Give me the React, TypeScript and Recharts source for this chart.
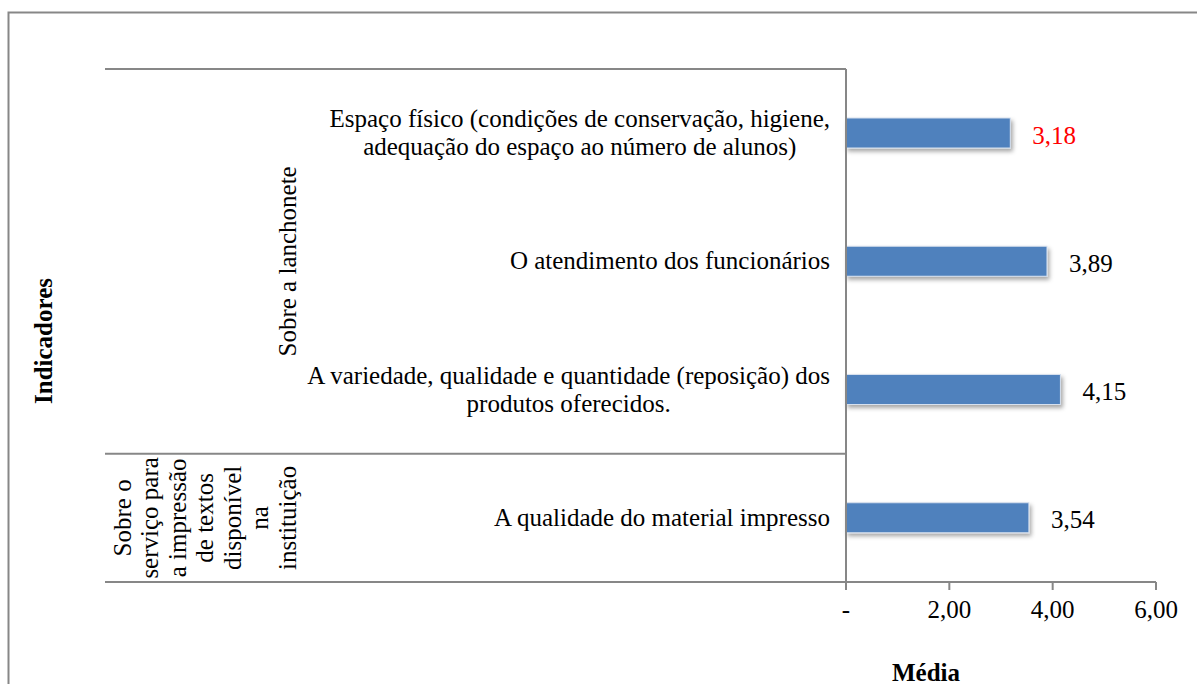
import { Bar, BarChart, LabelList, XAxis, YAxis } from "recharts";

const categories = [
  "Espaço físico (condições de conservação, higiene,\nadequação do espaço ao número de alunos)",
  "O atendimento dos funcionários",
  "A variedade, qualidade e quantidade (reposição) dos\nprodutos oferecidos.",
  "A qualidade do material impresso",
];
const values = [3.18, 3.89, 4.15, 3.54];
const groupLabels = [
  "Sobre a lanchonete",
  "Sobre o\nserviço para\na impressão\nde textos\ndisponível\nna\ninstituição",
];
const groupSizes = [3, 1];
const xTicks = [0, 2, 4, 6];
const redLabels = [0];

const data = categories.map((label, i) => ({ label, value: values[i] }));

const W = 1197;
const H = 684;
const M = { top: 69, right: 41, bottom: 0, left: 0 };
const X_AXIS_H = 102;
const Y_AXIS_W = 846;
const BAND = (H - M.top - X_AXIS_H) / categories.length;
const FONT = '"Liberation Serif", "Times New Roman", serif';
const FS = 25;
const LINE = "#878787";
const BLUE = "#4F81BD";
const LINE_LEFT = 105;
const LABEL_RIGHT = 830;
const GROUP_X = 287;
const LH = 27.5;

const fmt = (v: number) => (v === 0 ? "-" : v.toFixed(2).replace(".", ","));

function groupStart(i: number) {
  let s = 0;
  for (let g = 0; g < groupSizes.length; g++) {
    if (s === i) return g;
    s += groupSizes[g];
  }
  return -1;
}

function CategoryTick(props: any) {
  const { y, payload } = props;
  const i = props.index ?? payload.index;
  const g = groupStart(i);
  const last = i === categories.length - 1;
  return (
    <g>
      <foreignObject x={LINE_LEFT} y={y - BAND / 2} width={LABEL_RIGHT - LINE_LEFT} height={BAND}>
        <div
          style={{
            width: "100%",
            height: "100%",
            display: "flex",
            alignItems: "center",
            justifyContent: "flex-end",
          }}
        >
          <div
            style={{
              fontFamily: FONT,
              fontSize: FS,
              lineHeight: "28px",
              textAlign: "center",
              whiteSpace: "pre-line",
              color: "#000",
            }}
          >
            {payload.value}
          </div>
        </div>
      </foreignObject>
      {g >= 0 && (
        <>
          <line x1={LINE_LEFT} x2={Y_AXIS_W} y1={y - BAND / 2} y2={y - BAND / 2} stroke={LINE} strokeWidth={2} />
          <GroupLabel text={groupLabels[g]} cy={y + ((groupSizes[g] - 1) * BAND) / 2} />
        </>
      )}
      {last && (
        <line x1={LINE_LEFT} x2={Y_AXIS_W} y1={y + BAND / 2} y2={y + BAND / 2} stroke={LINE} strokeWidth={2} />
      )}
    </g>
  );
}

function GroupLabel({ text, cy }: { text: string; cy: number }) {
  const lines = text.split("\n");
  const n = lines.length;
  return (
    <text
      transform={`rotate(-90, ${GROUP_X}, ${cy})`}
      fontFamily={FONT}
      fontSize={FS}
      fill="#000"
      textAnchor="middle"
    >
      {lines.map((l, i) => (
        <tspan key={i} x={GROUP_X} y={cy + (i - (n - 1)) * LH} dominantBaseline="central">
          {l}
        </tspan>
      ))}
    </text>
  );
}

function ShadowBar(props: any) {
  const { x, y, width, height, index } = props;
  const id = `shadow-${index}`;
  return (
    <g>
      <defs>
        <filter id={id} x="-10%" y="-30%" width="130%" height="180%">
          <feDropShadow dx={2} dy={3} stdDeviation={2} floodColor="#000" floodOpacity={0.35} />
        </filter>
      </defs>
      <rect
        x={x}
        y={y}
        width={width}
        height={height}
        fill={BLUE}
        stroke="#d6e0ee"
        strokeWidth={1}
        filter={`url(#${id})`}
      />
    </g>
  );
}

function ValueLabel(props: any) {
  const { x, y, width, height, value, index } = props;
  return (
    <text
      x={x + width + 22}
      y={y + height / 2 + 2}
      fontFamily={FONT}
      fontSize={FS}
      fill={redLabels.includes(index) ? "#FF0000" : "#000"}
      dominantBaseline="central"
    >
      {fmt(value)}
    </text>
  );
}

export default function App() {
  return (
    <div style={{ position: "absolute", left: 0, top: 0, width: W, height: H, background: "#fff" }}>
      <BarChart width={W} height={H} data={data} layout="vertical" margin={M}>
        <XAxis
          type="number"
          domain={[0, 6]}
          ticks={xTicks}
          tickFormatter={fmt}
          tickSize={8}
          tickMargin={10}
          height={X_AXIS_H}
          stroke={LINE}
          strokeWidth={2}
          tick={{ fill: "#000", fontFamily: FONT, fontSize: FS }}
        />
        <YAxis
          type="category"
          dataKey="label"
          width={Y_AXIS_W}
          tickLine={false}
          stroke={LINE}
          strokeWidth={2}
          interval={0}
          tick={<CategoryTick />}
        />
        <Bar dataKey="value" barSize={30} shape={<ShadowBar />} isAnimationActive={false}>
          <LabelList dataKey="value" content={<ValueLabel />} />
        </Bar>
      </BarChart>
      <svg
        width={W}
        height={H}
        style={{ position: "absolute", left: 0, top: 0, pointerEvents: "none" }}
      >
        <rect x={8.5} y={12.5} width={1400} height={1000} fill="none" stroke={LINE} strokeWidth={2} />
        <text
          x={43}
          y={341}
          transform="rotate(-90, 43, 341)"
          fontFamily={FONT}
          fontSize={FS}
          fontWeight="bold"
          textAnchor="middle"
          dominantBaseline="central"
        >
          Indicadores
        </text>
        <text x={926} y={672} fontFamily={FONT} fontSize={FS} fontWeight="bold" textAnchor="middle" dominantBaseline="central">
          Média
        </text>
      </svg>
    </div>
  );
}
